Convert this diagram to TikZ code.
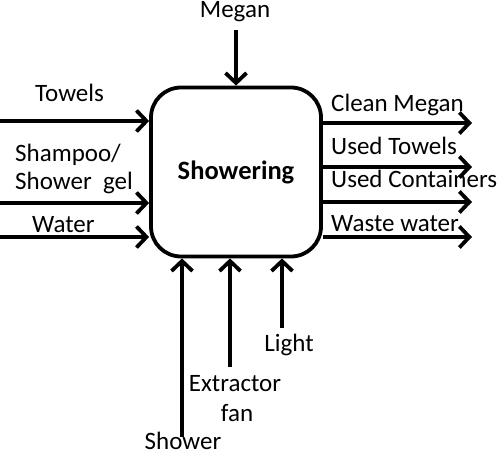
\documentclass[tikz,border=0pt]{standalone}
\usepackage{fontspec}
\setmainfont{Carlito}
\usetikzlibrary{arrows.meta}

\tikzset{
	flow/.style={line width=3.8pt, -{Straight Barb[length=10pt, width=21pt, line width=3.8pt]}},
	lbl/.style={anchor=base west, inner sep=0pt, font=\fontsize{25}{29}\selectfont},
	lblc/.style={anchor=base, inner sep=0pt, font=\fontsize{25}{29}\selectfont}
}

\begin{document}
\begin{tikzpicture}[x=1pt, y=-1pt]
	\useasboundingbox (0,0) rectangle (500,454);
	\node[draw, line width=3.8pt, rectangle, rounded corners=30pt, minimum width=170pt, minimum height=169pt, font=\bfseries\fontsize{26.5}{30}\selectfont] (sh) at (236,172) {Showering};
	% inputs
	\coordinate (towels) at (0,121);
	\coordinate (shampoo) at (0,203);
	\coordinate (water) at (0,237);
	\draw[flow] (towels) -- (towels -| sh.west);
	\draw[flow] (shampoo) -- (shampoo -| sh.west);
	\draw[flow] (water) -- (water -| sh.west);
	\node[lbl] (ltowels) at (35,102) {Towels};
	\node[lbl] (lshampoo) at (15,162) {Shampoo/};
	\node[lbl] (lgel) at (15,190) {Shower\ \ gel};
	\node[lbl] (lwater) at (32,233) {Water};
	% outputs
	\coordinate (clean) at (472,123);
	\coordinate (utowels) at (472,167);
	\coordinate (ucont) at (472,202);
	\coordinate (waste) at (472,237);
	\draw[flow] (clean -| sh.east) -- (clean);
	\draw[flow] (utowels -| sh.east) -- (utowels);
	\draw[flow] (ucont -| sh.east) -- (ucont);
	\draw[flow] (waste -| sh.east) -- (waste);
	\node[lbl] (lclean) at (331,112) {Clean Megan};
	\node[lbl] (lutowels) at (331,155) {Used Towels};
	\node[lbl] (lucont) at (331,188) {Used Containers};
	\node[lbl] (lwaste) at (331,232) {Waste water};
	% control
	\node[lblc] (lmegan) at (235,18) {Megan};
	\coordinate (megan) at (236,30);
	\draw[flow] (megan) -- (megan |- sh.north);
	% mechanisms
	\coordinate (shower) at (182,437);
	\coordinate (fan) at (230,367);
	\coordinate (light) at (282,328);
	\draw[flow] (shower) -- (shower |- sh.south);
	\draw[flow] (fan) -- (fan |- sh.south);
	\draw[flow] (light) -- (light |- sh.south);
	\node[lblc] (llight) at (289,351) {Light};
	\node[lblc] (lextr) at (235,391) {Extractor};
	\node[lblc] (lfan) at (237,421) {fan};
	\node[lblc] (lshower) at (183,449) {Shower};
\end{tikzpicture}
\end{document}
